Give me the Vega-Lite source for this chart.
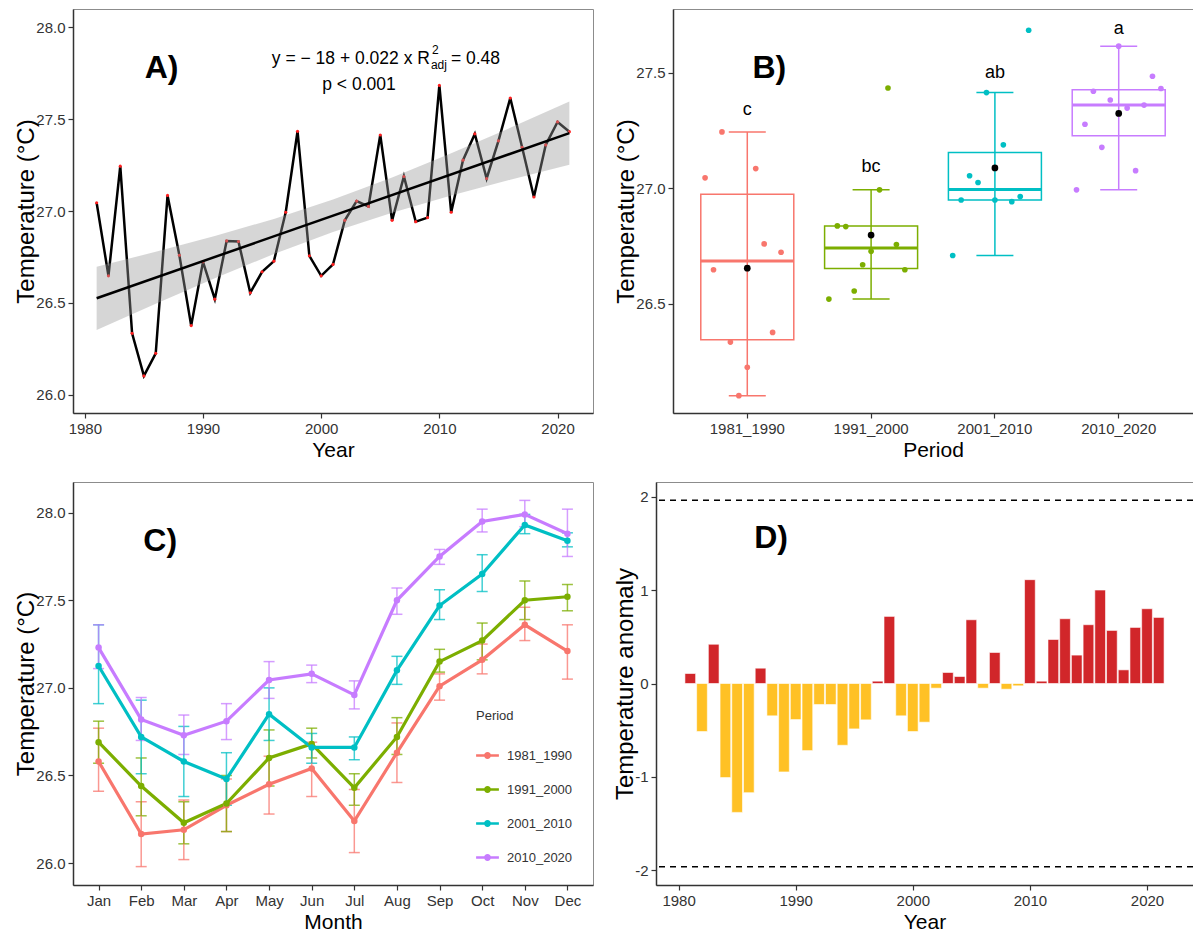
{
  "$schema": "https://vega.github.io/schema/vega-lite/v6.json",
  "padding": {"left": 14, "top": 8, "right": 0, "bottom": 4},
  "background": "white",
  "config": {
    "font": "Liberation Sans",
    "view": {"stroke": "#8c8c8c", "strokeWidth": 1},
    "axis": {"grid": false, "domainColor": "#333333", "domainWidth": 1.5, "tickColor": "#333333", "tickSize": 5, "tickWidth": 1.2, "labelFontSize": 15, "labelColor": "#333333", "labelPadding": 3, "titleFontSize": 21, "titleFontWeight": "normal", "titleColor": "#000000", "titlePadding": 3},
    "axisY": {"titleFontSize": 24, "titlePadding": -3},
    "legend": {"labelFontSize": 13, "titleFontSize": 13, "titleFontWeight": "normal", "labelColor": "#333333", "titleColor": "#333333"}
  },
  "datasets": {
    "annual": [
      {"Year": 1981, "Temperature": 27.045, "Period": "1981_1990", "Anomaly": 0.107},
      {"Year": 1982, "Temperature": 26.647, "Period": "1981_1990", "Anomaly": -0.514},
      {"Year": 1983, "Temperature": 27.244, "Period": "1981_1990", "Anomaly": 0.42},
      {"Year": 1984, "Temperature": 26.334, "Period": "1981_1990", "Anomaly": -1.007},
      {"Year": 1985, "Temperature": 26.102, "Period": "1981_1990", "Anomaly": -1.379},
      {"Year": 1986, "Temperature": 26.225, "Period": "1981_1990", "Anomaly": -1.168},
      {"Year": 1987, "Temperature": 27.085, "Period": "1981_1990", "Anomaly": 0.164},
      {"Year": 1988, "Temperature": 26.759, "Period": "1981_1990", "Anomaly": -0.346},
      {"Year": 1989, "Temperature": 26.376, "Period": "1981_1990", "Anomaly": -0.946},
      {"Year": 1990, "Temperature": 26.723, "Period": "1981_1990", "Anomaly": -0.386},
      {"Year": 1991, "Temperature": 26.52, "Period": "1991_2000", "Anomaly": -0.718},
      {"Year": 1992, "Temperature": 26.837, "Period": "1991_2000", "Anomaly": -0.225},
      {"Year": 1993, "Temperature": 26.834, "Period": "1991_2000", "Anomaly": -0.225},
      {"Year": 1994, "Temperature": 26.555, "Period": "1991_2000", "Anomaly": -0.661},
      {"Year": 1995, "Temperature": 26.669, "Period": "1991_2000", "Anomaly": -0.486},
      {"Year": 1996, "Temperature": 26.727, "Period": "1991_2000", "Anomaly": -0.389},
      {"Year": 1997, "Temperature": 26.993, "Period": "1991_2000", "Anomaly": 0.025},
      {"Year": 1998, "Temperature": 27.434, "Period": "1991_2000", "Anomaly": 0.718},
      {"Year": 1999, "Temperature": 26.756, "Period": "1991_2000", "Anomaly": -0.346},
      {"Year": 2000, "Temperature": 26.647, "Period": "1991_2000", "Anomaly": -0.514},
      {"Year": 2001, "Temperature": 26.709, "Period": "2001_2010", "Anomaly": -0.414},
      {"Year": 2002, "Temperature": 26.949, "Period": "2001_2010", "Anomaly": -0.05},
      {"Year": 2003, "Temperature": 27.054, "Period": "2001_2010", "Anomaly": 0.118},
      {"Year": 2004, "Temperature": 27.025, "Period": "2001_2010", "Anomaly": 0.075},
      {"Year": 2005, "Temperature": 27.414, "Period": "2001_2010", "Anomaly": 0.682},
      {"Year": 2006, "Temperature": 26.949, "Period": "2001_2010", "Anomaly": -0.05},
      {"Year": 2007, "Temperature": 27.188, "Period": "2001_2010", "Anomaly": 0.332},
      {"Year": 2008, "Temperature": 26.942, "Period": "2001_2010", "Anomaly": -0.061},
      {"Year": 2009, "Temperature": 26.964, "Period": "2001_2010", "Anomaly": -0.025},
      {"Year": 2010, "Temperature": 27.684, "Period": "2001_2010", "Anomaly": 1.111},
      {"Year": 2011, "Temperature": 26.993, "Period": "2010_2020", "Anomaly": 0.025},
      {"Year": 2012, "Temperature": 27.277, "Period": "2010_2020", "Anomaly": 0.471},
      {"Year": 2013, "Temperature": 27.42, "Period": "2010_2020", "Anomaly": 0.693},
      {"Year": 2014, "Temperature": 27.177, "Period": "2010_2020", "Anomaly": 0.304},
      {"Year": 2015, "Temperature": 27.382, "Period": "2010_2020", "Anomaly": 0.629},
      {"Year": 2016, "Temperature": 27.615, "Period": "2010_2020", "Anomaly": 1.0},
      {"Year": 2017, "Temperature": 27.347, "Period": "2010_2020", "Anomaly": 0.568},
      {"Year": 2018, "Temperature": 27.076, "Period": "2010_2020", "Anomaly": 0.146},
      {"Year": 2019, "Temperature": 27.36, "Period": "2010_2020", "Anomaly": 0.6},
      {"Year": 2020, "Temperature": 27.485, "Period": "2010_2020", "Anomaly": 0.8},
      {"Year": 2021, "Temperature": 27.432, "Period": "2010_2020", "Anomaly": 0.707}
    ],
    "band": [
      {"Year": 1981, "Lower": 26.352, "Upper": 26.696},
      {"Year": 1986, "Lower": 26.495, "Upper": 26.778},
      {"Year": 1991, "Lower": 26.634, "Upper": 26.864},
      {"Year": 1996, "Lower": 26.766, "Upper": 26.957},
      {"Year": 2001, "Lower": 26.886, "Upper": 27.062},
      {"Year": 2006, "Lower": 26.991, "Upper": 27.182},
      {"Year": 2011, "Lower": 27.084, "Upper": 27.314},
      {"Year": 2016, "Lower": 27.17, "Upper": 27.453},
      {"Year": 2021, "Lower": 27.252, "Upper": 27.596}
    ],
    "letters": [
      {"Period": "1981_1990", "Letter": "c", "LabelY": 27.34},
      {"Period": "1991_2000", "Letter": "bc", "LabelY": 27.09},
      {"Period": "2001_2010", "Letter": "ab", "LabelY": 27.5},
      {"Period": "2010_2020", "Letter": "a", "LabelY": 27.69}
    ],
    "monthly": [
      {"Month": "Jan", "Period": "1981_1990", "Mean": 26.58, "Lo": 26.41, "Hi": 26.77},
      {"Month": "Feb", "Period": "1981_1990", "Mean": 26.166, "Lo": 25.98, "Hi": 26.35},
      {"Month": "Mar", "Period": "1981_1990", "Mean": 26.19, "Lo": 26.02, "Hi": 26.36},
      {"Month": "Apr", "Period": "1981_1990", "Mean": 26.33, "Lo": 26.18, "Hi": 26.48},
      {"Month": "May", "Period": "1981_1990", "Mean": 26.45, "Lo": 26.28, "Hi": 26.61},
      {"Month": "Jun", "Period": "1981_1990", "Mean": 26.54, "Lo": 26.38, "Hi": 26.69},
      {"Month": "Jul", "Period": "1981_1990", "Mean": 26.24, "Lo": 26.06, "Hi": 26.42},
      {"Month": "Aug", "Period": "1981_1990", "Mean": 26.63, "Lo": 26.46, "Hi": 26.8},
      {"Month": "Sep", "Period": "1981_1990", "Mean": 27.01, "Lo": 26.93, "Hi": 27.08},
      {"Month": "Oct", "Period": "1981_1990", "Mean": 27.16, "Lo": 27.08, "Hi": 27.25},
      {"Month": "Nov", "Period": "1981_1990", "Mean": 27.36, "Lo": 27.27, "Hi": 27.46},
      {"Month": "Dec", "Period": "1981_1990", "Mean": 27.21, "Lo": 27.05, "Hi": 27.36},
      {"Month": "Jan", "Period": "1991_2000", "Mean": 26.69, "Lo": 26.57, "Hi": 26.81},
      {"Month": "Feb", "Period": "1991_2000", "Mean": 26.44, "Lo": 26.27, "Hi": 26.6},
      {"Month": "Mar", "Period": "1991_2000", "Mean": 26.23, "Lo": 26.11, "Hi": 26.35},
      {"Month": "Apr", "Period": "1991_2000", "Mean": 26.34, "Lo": 26.18, "Hi": 26.5},
      {"Month": "May", "Period": "1991_2000", "Mean": 26.6, "Lo": 26.44, "Hi": 26.76},
      {"Month": "Jun", "Period": "1991_2000", "Mean": 26.68, "Lo": 26.6, "Hi": 26.77},
      {"Month": "Jul", "Period": "1991_2000", "Mean": 26.43, "Lo": 26.33, "Hi": 26.51},
      {"Month": "Aug", "Period": "1991_2000", "Mean": 26.72, "Lo": 26.62, "Hi": 26.83},
      {"Month": "Sep", "Period": "1991_2000", "Mean": 27.15, "Lo": 27.09, "Hi": 27.22},
      {"Month": "Oct", "Period": "1991_2000", "Mean": 27.27, "Lo": 27.16, "Hi": 27.37},
      {"Month": "Nov", "Period": "1991_2000", "Mean": 27.5, "Lo": 27.39, "Hi": 27.61},
      {"Month": "Dec", "Period": "1991_2000", "Mean": 27.52, "Lo": 27.44, "Hi": 27.59},
      {"Month": "Jan", "Period": "2001_2010", "Mean": 27.125, "Lo": 26.91, "Hi": 27.36},
      {"Month": "Feb", "Period": "2001_2010", "Mean": 26.72, "Lo": 26.51, "Hi": 26.93},
      {"Month": "Mar", "Period": "2001_2010", "Mean": 26.58, "Lo": 26.38, "Hi": 26.78},
      {"Month": "Apr", "Period": "2001_2010", "Mean": 26.48, "Lo": 26.33, "Hi": 26.63},
      {"Month": "May", "Period": "2001_2010", "Mean": 26.85, "Lo": 26.7, "Hi": 27.0},
      {"Month": "Jun", "Period": "2001_2010", "Mean": 26.66, "Lo": 26.57, "Hi": 26.74},
      {"Month": "Jul", "Period": "2001_2010", "Mean": 26.66, "Lo": 26.59, "Hi": 26.72},
      {"Month": "Aug", "Period": "2001_2010", "Mean": 27.1, "Lo": 27.02, "Hi": 27.18},
      {"Month": "Sep", "Period": "2001_2010", "Mean": 27.47, "Lo": 27.39, "Hi": 27.56},
      {"Month": "Oct", "Period": "2001_2010", "Mean": 27.65, "Lo": 27.55, "Hi": 27.76},
      {"Month": "Nov", "Period": "2001_2010", "Mean": 27.93, "Lo": 27.88, "Hi": 27.99},
      {"Month": "Dec", "Period": "2001_2010", "Mean": 27.84, "Lo": 27.805, "Hi": 27.885},
      {"Month": "Jan", "Period": "2010_2020", "Mean": 27.23, "Lo": 27.11, "Hi": 27.36},
      {"Month": "Feb", "Period": "2010_2020", "Mean": 26.82, "Lo": 26.7, "Hi": 26.945},
      {"Month": "Mar", "Period": "2010_2020", "Mean": 26.73, "Lo": 26.62, "Hi": 26.845},
      {"Month": "Apr", "Period": "2010_2020", "Mean": 26.81, "Lo": 26.705, "Hi": 26.91},
      {"Month": "May", "Period": "2010_2020", "Mean": 27.045, "Lo": 26.94, "Hi": 27.15},
      {"Month": "Jun", "Period": "2010_2020", "Mean": 27.08, "Lo": 27.03, "Hi": 27.13},
      {"Month": "Jul", "Period": "2010_2020", "Mean": 26.96, "Lo": 26.88, "Hi": 27.04},
      {"Month": "Aug", "Period": "2010_2020", "Mean": 27.5, "Lo": 27.42, "Hi": 27.57},
      {"Month": "Sep", "Period": "2010_2020", "Mean": 27.75, "Lo": 27.705, "Hi": 27.79},
      {"Month": "Oct", "Period": "2010_2020", "Mean": 27.95, "Lo": 27.89, "Hi": 28.02},
      {"Month": "Nov", "Period": "2010_2020", "Mean": 27.99, "Lo": 27.92, "Hi": 28.07},
      {"Month": "Dec", "Period": "2010_2020", "Mean": 27.88, "Lo": 27.75, "Hi": 28.02}
    ]
  },
  "spacing": 20,
  "resolve": {"scale": {"x": "independent", "y": "independent", "color": "independent", "xOffset": "independent"}, "legend": {"color": "independent"}},
  "vconcat": [
    {
      "bounds": "flush",
      "spacing": 80,
      "resolve": {"scale": {"x": "independent", "y": "independent", "color": "independent", "xOffset": "independent"}, "legend": {"color": "independent"}},
      "hconcat": [
        {
          "width": 520,
          "height": 404,
          "layer": [
            {
              "data": {"name": "annual"},
              "mark": {"type": "line", "color": "black", "strokeWidth": 2.5},
              "encoding": {
                "x": {"field": "Year", "type": "quantitative", "scale": {"domain": [1979, 2023], "nice": false, "zero": false}, "axis": {"values": [1980, 1990, 2000, 2010, 2020], "format": "d", "title": "Year"}},
                "y": {"field": "Temperature", "type": "quantitative", "scale": {"domain": [25.9, 28.1], "nice": false, "zero": false}, "axis": {"values": [26, 26.5, 27, 27.5, 28], "format": ".1f", "title": "Temperature (°C)"}}
              }
            },
            {
              "data": {"name": "annual"},
              "mark": {"type": "circle", "color": "#ff2020", "size": 10, "opacity": 1},
              "encoding": {
                "x": {"field": "Year", "type": "quantitative"},
                "y": {"field": "Temperature", "type": "quantitative"}
              }
            },
            {
              "data": {"name": "band"},
              "mark": {"type": "area", "color": "#999999", "opacity": 0.4},
              "encoding": {
                "x": {"field": "Year", "type": "quantitative"},
                "y": {"field": "Lower", "type": "quantitative"},
                "y2": {"field": "Upper"}
              }
            },
            {
              "data": {"name": "annual"},
              "transform": [{"regression": "Temperature", "on": "Year"}],
              "mark": {"type": "line", "color": "black", "strokeWidth": 2.5},
              "encoding": {
                "x": {"field": "Year", "type": "quantitative"},
                "y": {"field": "Temperature", "type": "quantitative"}
              }
            },
            {
              "data": {"values": [{}]},
              "mark": {"type": "text", "text": "A)", "fontSize": 32, "fontWeight": "bold", "align": "center", "baseline": "middle", "color": "black"},
              "encoding": {"x": {"datum": 1986.5}, "y": {"datum": 27.78}}
            },
            {
              "data": {"values": [{}]},
              "mark": {"type": "text", "text": "y = − 18 + 0.022 x  R", "fontSize": 17.5, "align": "right", "baseline": "alphabetic", "color": "black"},
              "encoding": {"x": {"datum": 2009.2}, "y": {"datum": 27.8}}
            },
            {
              "data": {"values": [{}]},
              "mark": {"type": "text", "text": "2", "fontSize": 12, "align": "left", "baseline": "alphabetic", "dx": 2, "dy": -10, "color": "black"},
              "encoding": {"x": {"datum": 2009.2}, "y": {"datum": 27.8}}
            },
            {
              "data": {"values": [{}]},
              "mark": {"type": "text", "text": "adj", "fontSize": 12, "align": "left", "baseline": "alphabetic", "dx": 1, "dy": 5, "color": "black"},
              "encoding": {"x": {"datum": 2009.2}, "y": {"datum": 27.8}}
            },
            {
              "data": {"values": [{}]},
              "mark": {"type": "text", "text": "= 0.48", "fontSize": 17.5, "align": "left", "baseline": "alphabetic", "dx": 21, "color": "black"},
              "encoding": {"x": {"datum": 2009.2}, "y": {"datum": 27.8}}
            },
            {
              "data": {"values": [{}]},
              "mark": {"type": "text", "text": "p < 0.001", "fontSize": 17.5, "align": "center", "baseline": "alphabetic", "color": "black"},
              "encoding": {"x": {"datum": 2003.2}, "y": {"datum": 27.66}}
            }
          ]
        },
        {
          "width": 520,
          "height": 404,
          "data": {"name": "annual"},
          "encoding": {
            "x": {"field": "Period", "type": "nominal", "scale": {"domain": ["1981_1990", "1991_2000", "2001_2010", "2010_2020"], "paddingInner": 0.25, "paddingOuter": 0.225}, "axis": {"labelAngle": 0, "title": "Period"}}
          },
          "layer": [
            {
              "transform": [
                {"joinaggregate": [{"op": "q1", "field": "Temperature", "as": "lowq"}, {"op": "q3", "field": "Temperature", "as": "highq"}], "groupby": ["Period"]},
                {"filter": "datum.Temperature >= datum.lowq - 1.5 * (datum.highq - datum.lowq) && datum.Temperature <= datum.highq + 1.5 * (datum.highq - datum.lowq)"}
              ],
              "mark": {"type": "rule", "strokeWidth": 1.5},
              "encoding": {
                "y": {"aggregate": "min", "field": "Temperature", "type": "quantitative", "scale": {"domain": [26.027, 27.776], "nice": false, "zero": false}, "axis": {"values": [26.5, 27, 27.5], "format": ".1f", "title": "Temperature (°C)"}},
                "y2": {"aggregate": "max", "field": "Temperature"},
                "color": {"field": "Period", "type": "nominal", "scale": {"domain": ["1981_1990", "1991_2000", "2001_2010", "2010_2020"], "range": ["#F8766D", "#7CAE00", "#00BFC4", "#C77CFF"]}, "legend": null}
              }
            },
            {
              "transform": [
                {"joinaggregate": [{"op": "q1", "field": "Temperature", "as": "lowq"}, {"op": "q3", "field": "Temperature", "as": "highq"}], "groupby": ["Period"]},
                {"filter": "datum.Temperature >= datum.lowq - 1.5 * (datum.highq - datum.lowq)"}
              ],
              "mark": {"type": "tick", "size": 37, "thickness": 1.5, "opacity": 1},
              "encoding": {
                "y": {"aggregate": "min", "field": "Temperature", "type": "quantitative"},
                "color": {"field": "Period", "type": "nominal", "legend": null}
              }
            },
            {
              "transform": [
                {"joinaggregate": [{"op": "q1", "field": "Temperature", "as": "lowq"}, {"op": "q3", "field": "Temperature", "as": "highq"}], "groupby": ["Period"]},
                {"filter": "datum.Temperature <= datum.highq + 1.5 * (datum.highq - datum.lowq)"}
              ],
              "mark": {"type": "tick", "size": 37, "thickness": 1.5, "opacity": 1},
              "encoding": {
                "y": {"aggregate": "max", "field": "Temperature", "type": "quantitative"},
                "color": {"field": "Period", "type": "nominal", "legend": null}
              }
            },
            {
              "mark": {"type": "bar", "width": 93, "filled": false, "strokeWidth": 1.5, "fill": "transparent"},
              "encoding": {
                "y": {"aggregate": "q1", "field": "Temperature", "type": "quantitative"},
                "y2": {"aggregate": "q3", "field": "Temperature"},
                "stroke": {"field": "Period", "type": "nominal", "scale": {"domain": ["1981_1990", "1991_2000", "2001_2010", "2010_2020"], "range": ["#F8766D", "#7CAE00", "#00BFC4", "#C77CFF"]}, "legend": null}
              }
            },
            {
              "mark": {"type": "tick", "size": 93, "thickness": 3, "opacity": 1},
              "encoding": {
                "y": {"aggregate": "median", "field": "Temperature", "type": "quantitative"},
                "color": {"field": "Period", "type": "nominal", "legend": null}
              }
            },
            {
              "transform": [{"window": [{"op": "row_number", "as": "k"}], "groupby": ["Period"], "sort": [{"field": "Year", "order": "ascending"}]}],
              "mark": {"type": "circle", "size": 32, "opacity": 1},
              "encoding": {
                "y": {"field": "Temperature", "type": "quantitative"},
                "xOffset": {"field": "k", "type": "ordinal"},
                "color": {"field": "Period", "type": "nominal", "legend": null}
              }
            },
            {
              "mark": {"type": "circle", "color": "black", "size": 45, "opacity": 1},
              "encoding": {
                "y": {"aggregate": "mean", "field": "Temperature", "type": "quantitative"}
              }
            },
            {
              "data": {"name": "letters"},
              "mark": {"type": "text", "fontSize": 18, "baseline": "middle", "align": "center", "color": "black"},
              "encoding": {
                "y": {"field": "LabelY", "type": "quantitative"},
                "text": {"field": "Letter"}
              }
            },
            {
              "data": {"values": [{}]},
              "mark": {"type": "text", "text": "B)", "fontSize": 32, "fontWeight": "bold", "align": "center", "baseline": "middle", "dx": 22, "color": "black"},
              "encoding": {"x": {"datum": "1981_1990"}, "y": {"datum": 27.52}}
            }
          ]
        }
      ]
    },
    {
      "bounds": "flush",
      "spacing": 63,
      "resolve": {"scale": {"x": "independent", "y": "independent", "color": "independent"}, "legend": {"color": "independent"}},
      "hconcat": [
        {
          "width": 520,
          "height": 403,
          "data": {"name": "monthly"},
          "encoding": {
            "x": {"field": "Month", "type": "ordinal", "sort": ["Jan", "Feb", "Mar", "Apr", "May", "Jun", "Jul", "Aug", "Sep", "Oct", "Nov", "Dec"], "scale": {"type": "point", "padding": 0.6}, "axis": {"labelAngle": 0, "title": "Month"}}
          },
          "layer": [
            {
              "mark": {"type": "errorbar", "ticks": {"size": 11}, "thickness": 1.5, "opacity": 0.75},
              "encoding": {
                "y": {"field": "Lo", "type": "quantitative", "scale": {"domain": [25.875, 28.175], "nice": false, "zero": false}, "axis": {"values": [26, 26.5, 27, 27.5, 28], "format": ".1f", "title": "Temperature (°C)"}},
                "y2": {"field": "Hi"},
                "color": {"field": "Period", "type": "nominal", "scale": {"domain": ["1981_1990", "1991_2000", "2001_2010", "2010_2020"], "range": ["#F8766D", "#7CAE00", "#00BFC4", "#C77CFF"]}, "legend": {"title": "Period", "orient": "bottom-right", "offset": 20, "symbolType": "M-1,-0.11H1V0.11H-1Z M0.3,0A0.3,0.3,0,1,1,-0.3,0A0.3,0.3,0,1,1,0.3,0Z", "symbolSize": 520, "symbolStrokeWidth": 0, "symbolOpacity": 1, "rowPadding": 15, "titlePadding": 21, "labelOffset": 8}}
              }
            },
            {
              "mark": {"type": "line", "strokeWidth": 3.2},
              "encoding": {
                "y": {"field": "Mean", "type": "quantitative"},
                "color": {"field": "Period", "type": "nominal", "legend": {"title": "Period", "orient": "bottom-right", "offset": 20, "symbolType": "M-1,-0.11H1V0.11H-1Z M0.3,0A0.3,0.3,0,1,1,-0.3,0A0.3,0.3,0,1,1,0.3,0Z", "symbolSize": 520, "symbolStrokeWidth": 0, "symbolOpacity": 1, "rowPadding": 15, "titlePadding": 21, "labelOffset": 8}}
              }
            },
            {
              "mark": {"type": "circle", "size": 42, "opacity": 1},
              "encoding": {
                "y": {"field": "Mean", "type": "quantitative"},
                "color": {"field": "Period", "type": "nominal", "legend": {"title": "Period", "orient": "bottom-right", "offset": 20, "symbolType": "M-1,-0.11H1V0.11H-1Z M0.3,0A0.3,0.3,0,1,1,-0.3,0A0.3,0.3,0,1,1,0.3,0Z", "symbolSize": 520, "symbolStrokeWidth": 0, "symbolOpacity": 1, "rowPadding": 15, "titlePadding": 21, "labelOffset": 8}}
              }
            },
            {
              "data": {"values": [{}]},
              "mark": {"type": "text", "text": "C)", "fontSize": 32, "fontWeight": "bold", "align": "center", "baseline": "middle", "dx": 19, "color": "black"},
              "encoding": {"x": {"datum": "Feb"}, "y": {"datum": 27.84}}
            }
          ]
        },
        {
          "width": 537,
          "height": 403,
          "layer": [
            {
              "data": {"name": "annual"},
              "mark": {"type": "bar", "width": 10.7, "stroke": "white", "strokeWidth": 0.6},
              "encoding": {
                "x": {"field": "Year", "type": "quantitative", "scale": {"domain": [1978.5, 2023.5], "nice": false, "zero": false}, "axis": {"values": [1980, 1990, 2000, 2010, 2020], "format": "d", "title": "Year"}},
                "y": {"field": "Anomaly", "type": "quantitative", "scale": {"domain": [-2.156, 2.156], "nice": false}, "axis": {"values": [-2, -1, 0, 1, 2], "labelExpr": "'' + datum.value", "title": "Temperature anomaly"}},
                "color": {"condition": {"test": "datum.Anomaly > 0", "value": "#D1262A"}, "value": "#FFC125"}
              }
            },
            {
              "data": {"values": [{"Threshold": 1.96}, {"Threshold": -1.96}]},
              "mark": {"type": "rule", "strokeDash": [6, 5], "strokeWidth": 1.5, "color": "black"},
              "encoding": {"y": {"field": "Threshold", "type": "quantitative"}}
            },
            {
              "data": {"values": [{}]},
              "mark": {"type": "text", "text": "D)", "fontSize": 32, "fontWeight": "bold", "align": "center", "baseline": "middle", "color": "black"},
              "encoding": {"x": {"datum": 1987.9}, "y": {"datum": 1.56}}
            }
          ]
        }
      ]
    }
  ]
}
